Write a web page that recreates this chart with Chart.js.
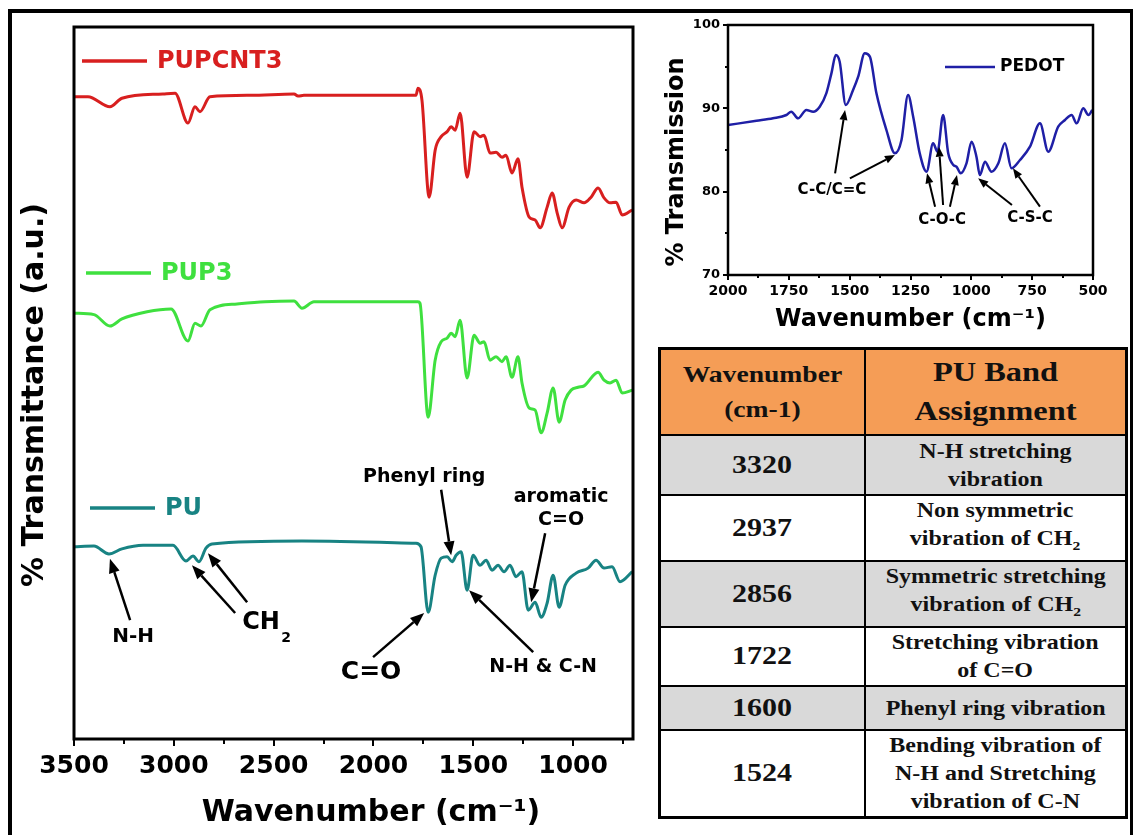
<!DOCTYPE html>
<html>
<head>
<meta charset="utf-8">
<script src="https://cdn.jsdelivr.net/npm/chart.js@4.4.1/dist/chart.umd.min.js"></script>
<style>
  html, body { margin: 0; padding: 0; background: #fff; }
  #page { position: relative; width: 1133px; height: 835px; overflow: hidden; background: #fff; }
  #frame { position: absolute; left: 8px; top: 9px; width: 1118px; height: 900px; border: 4px solid #000; }
  #main { position: absolute; left: 0; top: 0; width: 650px; height: 835px; }
  #inset { position: absolute; left: 640px; top: 14px; width: 480px; height: 330px; }
  #bands { position: absolute; left: 658px; top: 347px; width: 467px; height: 463px;
           border-collapse: collapse; border: 3px solid #000; table-layout: fixed; }
  #bands td, #bands th { border: 2px solid #000; text-align: center; vertical-align: middle;
           font-family: 'Liberation Serif', 'Times New Roman', serif; font-weight: bold; color: #111; padding: 0; }
  #bands th { background: #f59d56; }
  #bands tr.shade td { background: #d9d9d9; }
  #bands .s { display: inline-block; transform: scaleX(1.2); }
  #bands th.c1 .s { font-size: 23px; line-height: 35px; }
  #bands th.c2 .s { font-size: 27px; line-height: 39px; }
  #bands td.num .s { font-size: 25px; }
  #bands td.txt .s { font-size: 20px; line-height: 28px; }
  #bands sub { font-size: 13px; }
</style>
</head>
<body>
<div id="page">
  <div id="frame"></div>
  <canvas id="main" width="650" height="835"></canvas>
  <canvas id="inset" width="480" height="330"></canvas>
  <table id="bands"></table>
</div>
<script>
const FONT = "'DejaVu Sans', Verdana, sans-serif";
Chart.defaults.font.family = FONT;

// ---- FTIR spectra (wavenumber in cm-1, transmittance in a.u.) ----
const pupcntWn = [3500,3430,3320,3260,3055,2994,2929,2894,2869,2819,2618,2398,2378,2348,2117,1787,1777,1757,1721,1691,
  1661,1631,1611,1591,1566,1531,1496,1466,1446,1416,1386,1356,1336,1306,1276,1256,1220,1190,1165,1130,
  1105,1080,1055,1020,985,945,910,875,845,815,785,754,704];
const pupcntT = [90.2,90.2,88.8,90.0,90.6,90.7,86.5,88.8,88.1,90.2,90.4,90.6,90.3,90.4,90.4,90.4,91.4,89.7,76.1,82.7,
  84.6,85.3,86.0,85.5,87.9,78.9,85.3,84.6,84.8,82.3,82.4,81.7,82.0,79.5,81.5,77.5,73.3,72.9,71.8,74.7,
  76.7,73.9,71.8,74.7,75.7,75.3,76.1,77.4,76.0,75.3,75.4,73.6,74.3];

const pup3Wn = [3500,3400,3320,3260,3134,3014,2929,2894,2864,2819,2683,2543,2398,2358,2298,1777,1767,1726,1691,1661,
  1631,1611,1591,1566,1531,1496,1466,1446,1416,1386,1356,1336,1306,1276,1256,1220,1190,1160,1130,1100,
  1070,1040,1010,975,945,875,845,815,785,754,704];
const pup3T = [59.8,59.6,58.0,59.0,60.0,60.4,55.9,58.4,58.0,60.3,61.1,61.4,61.5,60.5,61.4,61.4,61.2,45.2,53.2,55.8,
  56.3,57.0,56.5,58.8,50.7,56.7,55.6,55.8,53.2,53.7,53.0,53.7,50.8,53.7,50.0,46.5,46.2,43.0,45.8,49.3,
  44.5,47.6,49.0,49.4,49.6,51.5,50.4,50.0,50.4,48.6,49.0];

const puWn = [3500,3400,3325,3260,3154,3004,2939,2904,2874,2839,2809,2358,1787,1762,1726,1691,1661,1631,1606,1586,
  1561,1531,1501,1466,1436,1406,1376,1346,1316,1286,1256,1225,1190,1160,1130,1100,1070,1040,985,925,
  885,845,805,765,704];
const puT = [27.0,27.1,26.0,26.7,27.2,27.2,25.0,25.7,24.9,26.8,27.4,27.8,27.5,27.0,17.8,23.0,25.4,25.6,24.9,25.8,
  26.3,20.9,25.8,24.4,25.1,23.7,24.4,23.5,24.4,22.8,23.5,18.1,19.2,17.1,19.1,23.0,18.5,21.6,23.3,24.0,
  25.1,24.0,24.2,22.1,23.5];

// PEDOT spectrum (% transmission)
const pedotWn = [2000,1883,1815,1760,1740,1712,1678,1650,1623,1596,1575,1557,1541,1516,1486,1465,1438,1417,1390,1349,
  1314,1287,1260,1239,1212,1184,1157,1139,1116,1095,1074,1061,1044,1020,999,979,965,944,917,889,
  862,835,800,759,718,684,643,615,588,567,540,519,503];
const pedotT = [88.0,88.5,88.8,89.2,89.6,88.8,89.8,89.6,90.2,91.8,94.2,96.4,95.6,90.4,92.2,93.8,96.6,96.2,91.8,87.4,
  84.6,86.2,91.6,89.0,84.6,82.4,85.8,84.8,89.2,84.6,83.2,83.0,82.2,83.4,86.0,84.2,82.0,83.6,82.4,83.4,
  85.8,82.8,83.8,85.4,88.2,84.8,87.8,88.6,89.2,88.2,90.0,89.2,89.8];

// ---- axis ticks ----
const mainXTicks = [3500, 3000, 2500, 2000, 1500, 1000];
const mainXMinor = [3250, 2750, 2250, 1750, 1250, 750];
const insetXTicks = [2000, 1750, 1500, 1250, 1000, 750, 500];
const insetXMinor = [1875, 1625, 1375, 1125, 875, 625];
const insetYTicks = [70, 80, 90, 100];
const insetYMinor = [75, 85, 95];

// ---- band assignment table ----
const bandWavenumbers = ['3320', '2937', '2856', '1722', '1600', '1524'];
const bandAssignments = [
  'N-H stretching<br>vibration',
  'Non symmetric<br>vibration of CH<sub>2</sub>',
  'Symmetric stretching<br>vibration of CH<sub>2</sub>',
  'Stretching vibration<br>of C=O',
  'Phenyl ring vibration',
  'Bending vibration of<br>N-H and Stretching<br>vibration of C-N'
];
const bandRowHeights = [60, 60, 65, 59, 44, 88];

const RED = '#d81f1f', GREEN = '#3fe03f', TEAL = '#188383', BLUE = '#1f1fa6';

const toPoints = (xs, ys) => xs.map((x, i) => ({ x, y: ys[i] }));
const plainLabel = v => String(v);

function drawArrow(ctx, x1, y1, x2, y2, head, width, lw) {
  const ang = Math.atan2(y2 - y1, x2 - x1);
  const bx = x2 - head * Math.cos(ang), by = y2 - head * Math.sin(ang);
  ctx.strokeStyle = '#000'; ctx.fillStyle = '#000'; ctx.lineWidth = lw;
  ctx.beginPath(); ctx.moveTo(x1, y1); ctx.lineTo(bx, by); ctx.stroke();
  ctx.beginPath(); ctx.moveTo(x2, y2);
  ctx.lineTo(bx + width / 2 * Math.sin(ang), by - width / 2 * Math.cos(ang));
  ctx.lineTo(bx - width / 2 * Math.sin(ang), by + width / 2 * Math.cos(ang));
  ctx.closePath(); ctx.fill();
}

function drawText(ctx, text, x, y, size, color, align, rot) {
  ctx.save();
  ctx.translate(x, y);
  if (rot) ctx.rotate(rot);
  ctx.font = 'bold ' + size + 'px ' + FONT;
  ctx.fillStyle = color || '#000';
  ctx.textAlign = align || 'center';
  ctx.textBaseline = 'middle';
  ctx.fillText(text, 0, 0);
  ctx.restore();
}

// peak labels of the PU spectrum, placed in (wavenumber, a.u.) coordinates
const mainLabels = [
  { t: 'N-H', wn: 3204, v: 14.3, size: 20 },
  { t: 'CH', wn: 2563, v: 16.3, size: 24 },
  { t: '2', wn: 2438, v: 14.2, size: 14 },
  { t: 'C=O', wn: 2012, v: 9.3, size: 25 },
  { t: 'N-H & C-N', wn: 1150, v: 10.1, size: 19 },
  { t: 'aromatic', wn: 1060, v: 34.0, size: 19 },
  { t: 'C=O', wn: 1060, v: 30.8, size: 19 },
  { t: 'Phenyl ring', wn: 1746, v: 36.8, size: 19 }
];
const mainArrows = [
  [3219, 16.7, 3320, 25.3],
  [2693, 17.7, 2909, 24.4],
  [2633, 19.2, 2829, 26.1],
  [2002, 11.5, 1746, 17.7],
  [1200, 12.2, 1521, 20.9],
  [1140, 28.9, 1210, 19.2],
  [1661, 35.0, 1611, 25.8]
];
const mainLegend = [
  { label: 'PUPCNT3', color: RED, dy: 34 },
  { label: 'PUP3', color: GREEN, dy: 246 },
  { label: 'PU', color: TEAL, dy: 481 }
];

const insetLabels = [
  { t: 'C-C/C=C', wn: 1573, v: 80.2 },
  { t: 'C-O-C', wn: 1120, v: 76.6 },
  { t: 'C-S-C', wn: 759, v: 76.8 }
];
const insetArrows = [
  [1560, 82.2, 1519, 89.8],
  [1499, 81.6, 1314, 84.4],
  [1149, 78.2, 1182, 82.2],
  [1116, 78.4, 1133, 85.4],
  [1088, 78.2, 1059, 82.0],
  [833, 78.4, 972, 81.6],
  [718, 78.2, 829, 82.8]
];

const mainDecor = {
  id: 'mainDecor',
  afterDatasetsDraw(chart) {
    const { ctx, chartArea: a, scales: { x, y } } = chart;
    ctx.save();
    ctx.strokeStyle = '#000'; ctx.lineWidth = 2;
    mainXMinor.forEach(v => {
      const px = Math.round(x.getPixelForValue(v));
      ctx.beginPath(); ctx.moveTo(px, a.bottom); ctx.lineTo(px, a.bottom + 5); ctx.stroke();
    });
    ctx.lineWidth = 3;
    ctx.strokeRect(a.left, a.top, a.right - a.left, a.bottom - a.top);

    mainLegend.forEach((e, i) => {
      const x0 = a.left + 8 + i * 4;
      ctx.strokeStyle = e.color; ctx.lineWidth = 3.5;
      ctx.beginPath(); ctx.moveTo(x0, a.top + e.dy); ctx.lineTo(x0 + 65, a.top + e.dy); ctx.stroke();
      drawText(ctx, e.label, x0 + 75, a.top + e.dy + 1, 24, e.color, 'left');
    });

    mainArrows.forEach(([w1, v1, w2, v2]) => {
      drawArrow(ctx, x.getPixelForValue(w1), y.getPixelForValue(v1),
        x.getPixelForValue(w2), y.getPixelForValue(v2), 14, 11, 2.5);
    });
    mainLabels.forEach(l => drawText(ctx, l.t, x.getPixelForValue(l.wn), y.getPixelForValue(l.v), l.size));

    drawText(ctx, '% Transmittance (a.u.)', a.left - 39, 395, 30, '#000', 'center', -Math.PI / 2);
    drawText(ctx, 'Wavenumber (cm\u207B\u00B9)', a.left + 297, a.bottom + 74, 30);
    ctx.restore();
  }
};

const insetDecor = {
  id: 'insetDecor',
  afterDatasetsDraw(chart) {
    const { ctx, chartArea: a, scales: { x, y } } = chart;
    ctx.save();
    ctx.strokeStyle = '#000'; ctx.lineWidth = 2;
    insetXMinor.forEach(v => {
      const px = Math.round(x.getPixelForValue(v));
      ctx.beginPath(); ctx.moveTo(px, a.bottom); ctx.lineTo(px, a.bottom + 3); ctx.stroke();
    });
    insetYMinor.forEach(v => {
      const py = Math.round(y.getPixelForValue(v));
      ctx.beginPath(); ctx.moveTo(a.left, py); ctx.lineTo(a.left - 3, py); ctx.stroke();
    });
    ctx.lineWidth = 2.5;
    ctx.strokeRect(a.left, a.top, a.right - a.left, a.bottom - a.top);

    ctx.strokeStyle = BLUE; ctx.lineWidth = 2.5;
    ctx.beginPath(); ctx.moveTo(a.left + 217, a.top + 42); ctx.lineTo(a.left + 267, a.top + 42); ctx.stroke();
    drawText(ctx, 'PEDOT', a.left + 272, a.top + 42, 17, '#000', 'left');

    insetArrows.forEach(([w1, v1, w2, v2]) => {
      drawArrow(ctx, x.getPixelForValue(w1), y.getPixelForValue(v1),
        x.getPixelForValue(w2), y.getPixelForValue(v2), 10, 8, 2);
    });
    insetLabels.forEach(l => drawText(ctx, l.t, x.getPixelForValue(l.wn), y.getPixelForValue(l.v), 15));

    drawText(ctx, '% Transmission', a.left - 51, a.top + 137, 24, '#000', 'center', -Math.PI / 2);
    drawText(ctx, 'Wavenumber (cm\u207B\u00B9)', (a.left + a.right) / 2, a.bottom + 45, 24);
    ctx.restore();
  }
};

const lineSet = (label, xs, ys, color, w) => ({
  label, data: toPoints(xs, ys), borderColor: color, backgroundColor: color,
  borderWidth: w, pointRadius: 0, fill: false, cubicInterpolationMode: 'monotone'
});

new Chart(document.getElementById('main'), {
  type: 'line',
  data: {
    datasets: [
      lineSet('PUPCNT3', pupcntWn, pupcntT, RED, 3),
      lineSet('PUP3', pup3Wn, pup3T, GREEN, 3),
      lineSet('PU', puWn, puT, TEAL, 3)
    ]
  },
  options: {
    responsive: false, animation: false, events: [],
    layout: { padding: { top: 27, right: 17, left: 0, bottom: 0 } },
    plugins: { legend: { display: false }, tooltip: { enabled: false } },
    scales: {
      x: {
        type: 'linear', reverse: true, min: 700, max: 3500,
        afterBuildTicks: s => { s.ticks = mainXTicks.map(v => ({ value: v })); },
        afterFit: s => { s.height = 96; s.paddingLeft = 0; s.paddingRight = 0; },
        grid: { display: true, drawOnChartArea: false, drawTicks: true, tickLength: 7, color: '#000', lineWidth: 2 },
        border: { display: false },
        ticks: { color: '#000', font: { size: 25, weight: 'bold' }, padding: 5, maxRotation: 0, autoSkip: false, callback: plainLabel }
      },
      y: {
        min: 0, max: 100,
        afterFit: s => { s.width = 74; s.paddingTop = 0; s.paddingBottom = 0; },
        ticks: { display: false }, grid: { display: false }, border: { display: false }
      }
    }
  },
  plugins: [mainDecor]
});

new Chart(document.getElementById('inset'), {
  type: 'line',
  data: { datasets: [lineSet('PEDOT', pedotWn, pedotT, BLUE, 2.5)] },
  options: {
    responsive: false, animation: false, events: [],
    layout: { padding: { top: 11, right: 27, left: 0, bottom: 0 } },
    plugins: { legend: { display: false }, tooltip: { enabled: false } },
    scales: {
      x: {
        type: 'linear', reverse: true, min: 500, max: 2000,
        afterBuildTicks: s => { s.ticks = insetXTicks.map(v => ({ value: v })); },
        afterFit: s => { s.height = 69; s.paddingLeft = 0; s.paddingRight = 0; },
        grid: { display: true, drawOnChartArea: false, drawTicks: true, tickLength: 5, color: '#000', lineWidth: 2 },
        border: { display: false },
        ticks: { color: '#000', font: { size: 14, weight: 'bold' }, padding: 3, maxRotation: 0, autoSkip: false, callback: plainLabel }
      },
      y: {
        min: 70, max: 100,
        afterBuildTicks: s => { s.ticks = insetYTicks.map(v => ({ value: v })); },
        afterFit: s => { s.width = 88; s.paddingTop = 0; s.paddingBottom = 0; },
        grid: { display: true, drawOnChartArea: false, drawTicks: true, tickLength: 5, color: '#000', lineWidth: 2 },
        border: { display: false },
        ticks: { color: '#000', font: { size: 13, weight: 'bold' }, padding: 3, callback: plainLabel }
      }
    }
  },
  plugins: [insetDecor]
});

// band assignment table
(function buildTable() {
  const table = document.getElementById('bands');
  const cg = document.createElement('colgroup');
  [205, 262].forEach(w => { const c = document.createElement('col'); c.style.width = w + 'px'; cg.appendChild(c); });
  table.appendChild(cg);
  const head = document.createElement('tr');
  head.style.height = '86px';
  head.innerHTML = '<th class="c1"><span class="s">Wavenumber<br>(cm-1)</span></th>' +
                   '<th class="c2"><span class="s">PU Band<br>Assignment</span></th>';
  table.appendChild(head);
  bandWavenumbers.forEach((wn, i) => {
    const tr = document.createElement('tr');
    if (i % 2 === 0) tr.className = 'shade';
    tr.style.height = bandRowHeights[i] + 'px';
    tr.innerHTML = '<td class="num"><span class="s">' + wn + '</span></td>' +
                   '<td class="txt"><span class="s">' + bandAssignments[i] + '</span></td>';
    table.appendChild(tr);
  });
})();
</script>
</body>
</html>
